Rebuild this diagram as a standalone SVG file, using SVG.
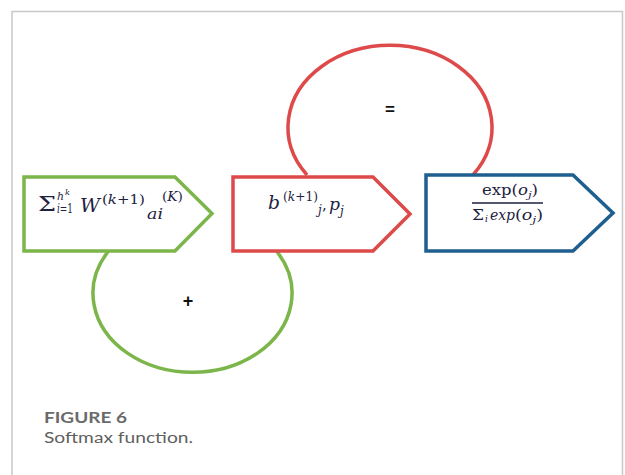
<svg xmlns="http://www.w3.org/2000/svg" width="625" height="475" viewBox="0 0 625 475">
<defs>
<style>
.frame{fill:none;stroke:#c8c8c8;stroke-width:1.5}
.node{fill:#fff;stroke-width:3.5;stroke-linejoin:miter}
.g{stroke:#7cb54a}
.r{stroke:#de4a4a}
.b{stroke:#1e5f8f}
.arc{fill:none;stroke-width:3.5}
.m{font-family:"DejaVu Serif",serif;fill:#1d2240}
.it{font-style:italic}
.op{font-family:"Liberation Sans",sans-serif;font-weight:bold;fill:#111;text-anchor:middle}
.cap{font-family:Lato,"Open Sans",sans-serif}
</style>
</defs>
<rect x="0" y="0" width="625" height="475" fill="#fff"/>
<path class="frame" d="M12,475 V11.5 H622.5 V475"/>
<g id="connectors">
<path class="arc r" d="M307,175 A102,82 0 1 1 473,175"/>
<path class="arc g" d="M108.5,251 A99.5,79 0 1 0 276.5,251"/>
<text class="op" x="390" y="115" font-size="17">=</text>
<text class="op" x="188" y="307" font-size="18">+</text>
</g>
<g id="node-sum">
<path class="node g" d="M24,177 H175 L212,213.5 L175,251 H24 Z"/>
<text class="m" x="38" y="211" font-size="21" textLength="18" lengthAdjust="spacingAndGlyphs">Σ</text>
<text class="m it" x="57" y="200" font-size="11" textLength="7" lengthAdjust="spacingAndGlyphs">h</text>
<text class="m it" x="65" y="195" font-size="8">k</text>
<text class="m" x="57" y="213" font-size="12" textLength="16" lengthAdjust="spacingAndGlyphs"><tspan font-style="italic">i</tspan>=1</text>
<text class="m it" x="80" y="212" font-size="18" textLength="20" lengthAdjust="spacingAndGlyphs">W</text>
<text class="m" x="102" y="204" font-size="13" textLength="43" lengthAdjust="spacingAndGlyphs">(<tspan font-style="italic">k</tspan>+1)</text>
<text class="m it" x="147" y="219" font-size="14" textLength="16" lengthAdjust="spacingAndGlyphs">ai</text>
<text class="m" x="162" y="201" font-size="12" textLength="21" lengthAdjust="spacingAndGlyphs">(<tspan font-style="italic">K</tspan>)</text>
</g>
<g id="node-b">
<path class="node r" d="M233,177 H373 L410,214 L373,251 H233 Z"/>
<text class="m it" x="268" y="209" font-size="19" textLength="12" lengthAdjust="spacingAndGlyphs">b</text>
<text class="m" x="283" y="201" font-size="12" textLength="35" lengthAdjust="spacingAndGlyphs">(<tspan font-style="italic">k</tspan>+1)</text>
<text class="m it" x="318" y="214" font-size="12">j</text>
<text class="m" x="322" y="210" font-size="15">,</text>
<text class="m it" x="329" y="210" font-size="16" textLength="11" lengthAdjust="spacingAndGlyphs">p</text>
<text class="m it" x="340" y="215" font-size="12">j</text>
</g>
<g id="node-softmax">
<path class="node b" d="M426,175 H573 L613,213 L573,251 H426 Z"/>
<text class="m" x="482" y="195" font-size="14" textLength="56" lengthAdjust="spacingAndGlyphs">exp(<tspan font-style="italic">o</tspan><tspan font-style="italic" font-size="10" dy="3">j</tspan><tspan dy="-3">)</tspan></text>
<line x1="472" y1="203" x2="543" y2="203" stroke="#1d2240" stroke-width="1.3"/>
<text class="m" x="472" y="220" font-size="15" textLength="12" lengthAdjust="spacingAndGlyphs">Σ</text>
<text class="m it" x="485" y="222" font-size="9">i</text>
<text class="m it" x="490" y="220" font-size="14" textLength="25" lengthAdjust="spacingAndGlyphs">exp</text>
<text class="m" x="515" y="220" font-size="14" textLength="28" lengthAdjust="spacingAndGlyphs">(<tspan font-style="italic">o</tspan><tspan font-style="italic" font-size="10" dy="3">j</tspan><tspan dy="-3">)</tspan></text>
</g>
<text class="cap" x="44" y="423" font-size="15.5" font-weight="bold" fill="#6a6a6a" textLength="83" lengthAdjust="spacingAndGlyphs">FIGURE 6</text>
<text class="cap" x="44" y="443" font-size="15.5" fill="#5f5f5f" textLength="149" lengthAdjust="spacingAndGlyphs">Softmax function.</text>
</svg>
